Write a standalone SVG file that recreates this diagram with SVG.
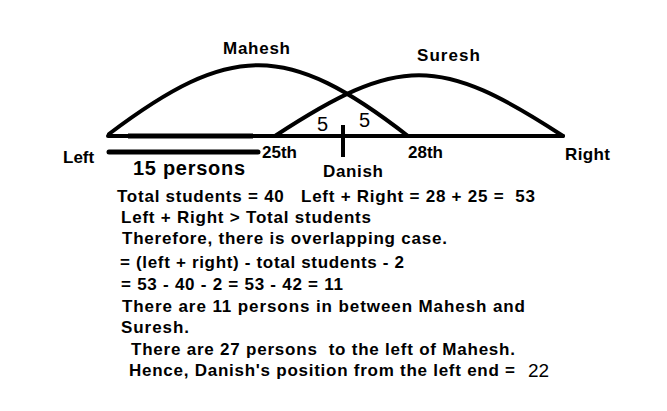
<svg xmlns="http://www.w3.org/2000/svg" width="667" height="411" viewBox="0 0 667 411">
<style>
.ln{fill:none;stroke:#000;stroke-width:4;stroke-linecap:round}
.lb{font-family:"Liberation Sans",Arial,sans-serif;font-weight:bold;font-size:17px;fill:#000}
.tx{font-family:"Liberation Sans",Arial,sans-serif;font-weight:bold;font-size:17px;fill:#000}
.rg{font-family:"Liberation Sans",Arial,sans-serif;font-size:20px;fill:#000}
</style>
<rect width="667" height="411" fill="#fff"/>
<g id="connectors">
<line class="ln" x1="108" y1="136" x2="563" y2="136"/>
<line class="ln" x1="128" y1="136" x2="253" y2="136" style="stroke-width:5;stroke-linecap:butt"/>
<path class="ln" d="M109,134 C231,42 287,42 408,136"/>
<path class="ln" d="M275,136 C399,55 439,55 563,136"/>
<line class="ln" x1="109" y1="152" x2="258" y2="152" style="stroke-width:5"/>
<line class="ln" x1="343" y1="125" x2="343" y2="157" style="stroke-linecap:butt"/>
</g>
<g id="mahesh"><text class="lb" x="223" y="54" textLength="67" lengthAdjust="spacing">Mahesh</text></g>
<g id="suresh"><text class="lb" x="417" y="61" textLength="63" lengthAdjust="spacing">Suresh</text></g>
<g id="left"><text class="lb" x="63" y="163">Left</text></g>
<g id="right"><text class="lb" x="565" y="160" textLength="45" lengthAdjust="spacing">Right</text></g>
<g id="p25"><text class="lb" x="262" y="158">25th</text></g>
<g id="p28"><text class="lb" x="408" y="158">28th</text></g>
<g id="danish"><text class="lb" x="323" y="177" textLength="60" lengthAdjust="spacing">Danish</text></g>
<g id="persons"><text class="lb" x="133" y="175" style="font-size:20px" textLength="112" lengthAdjust="spacing">15 persons</text></g>
<g id="fives">
<text class="rg" x="317" y="131">5</text>
<text class="rg" x="359" y="127">5</text>
</g>
<g id="solution">
<text class="tx" x="117" y="202" xml:space="preserve" textLength="418" lengthAdjust="spacing">Total students = 40   Left + Right = 28 + 25 =  53</text>
<text class="tx" x="121" y="223" textLength="250" lengthAdjust="spacing">Left + Right &gt; Total students</text>
<text class="tx" x="122" y="244" textLength="325" lengthAdjust="spacing">Therefore, there is overlapping case.</text>
<text class="tx" x="120" y="268" textLength="284" lengthAdjust="spacing">= (left + right) - total students - 2</text>
<text class="tx" x="121" y="290" textLength="222" lengthAdjust="spacing">= 53 - 40 - 2 = 53 - 42 = 11</text>
<text class="tx" x="122" y="312" textLength="403" lengthAdjust="spacing">There are 11 persons in between Mahesh and</text>
<text class="tx" x="121" y="333" textLength="68" lengthAdjust="spacing">Suresh.</text>
<text class="tx" x="131" y="355" xml:space="preserve" textLength="384" lengthAdjust="spacing">There are 27 persons  to the left of Mahesh.</text>
<text class="tx" x="129" y="376" textLength="386" lengthAdjust="spacing">Hence, Danish's position from the left end =</text>
<text class="rg" x="528" y="377" style="font-size:19px">22</text>
</g>
</svg>
